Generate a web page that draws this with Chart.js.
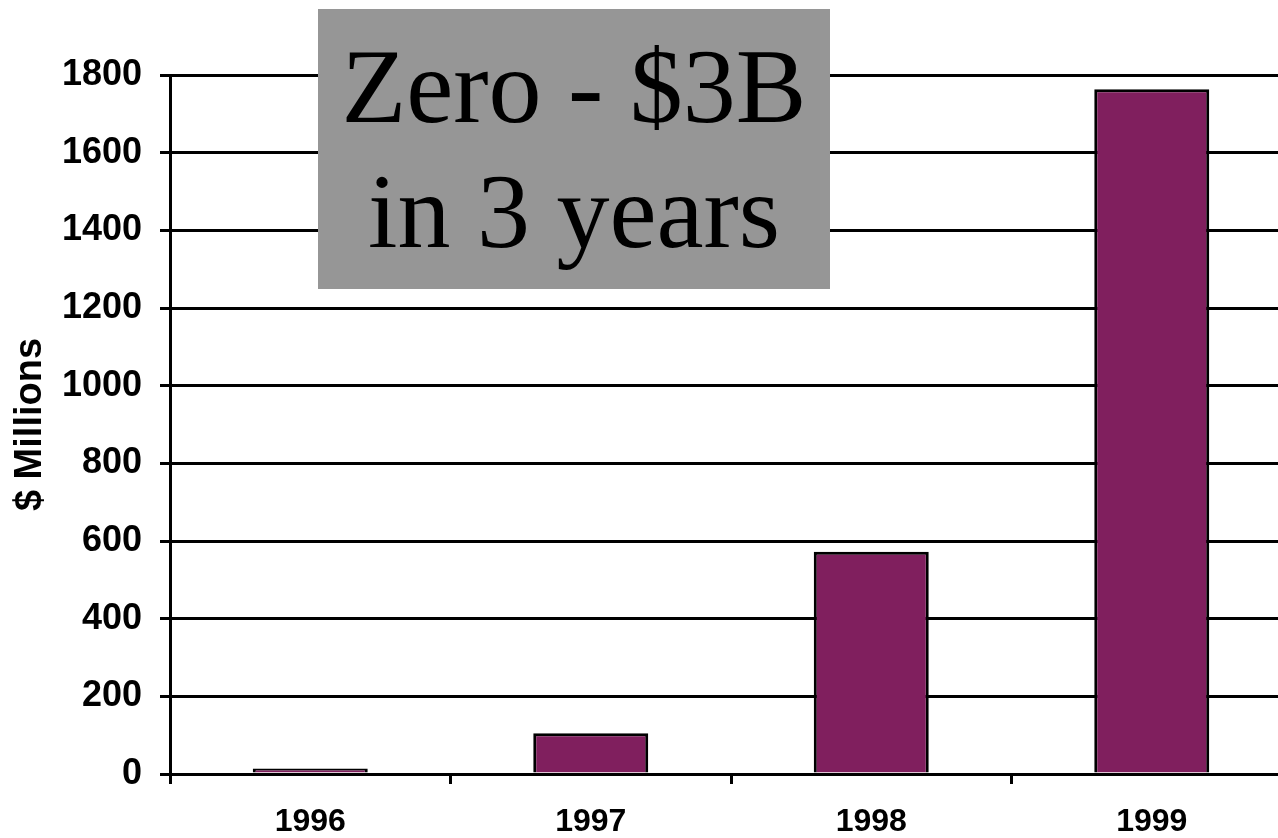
<!DOCTYPE html>
<html>
<head>
<meta charset="utf-8">
<script src="https://cdn.jsdelivr.net/npm/chart.js@4"></script>
<style>
  html, body { margin: 0; padding: 0; background: #ffffff; overflow: hidden; }
  #wrap { position: relative; width: 1300px; height: 838px; }
</style>
</head>
<body>
<div id="wrap"><canvas id="c"></canvas></div>
<script>
const categories = ['1996', '1997', '1998', '1999'];
const revenueMillions = [14, 105, 572, 1763];
const yTickValues = [0, 200, 400, 600, 800, 1000, 1200, 1400, 1600, 1800];
const yAxisTitle = '$ Millions';
const calloutLines = ['Zero - $3B', 'in 3 years'];

const calloutPlugin = {
  id: 'callout',
  afterDraw(chart) {
    const ctx = chart.ctx;
    ctx.save();
    ctx.fillStyle = '#969696';
    ctx.fillRect(318, 9, 512, 280);
    ctx.fillStyle = '#000000';
    ctx.font = '106px "Liberation Serif", "Times New Roman", serif';
    ctx.textAlign = 'center';
    ctx.textBaseline = 'alphabetic';
    ctx.fillText(calloutLines[0], 574, 122);
    ctx.fillText(calloutLines[1], 574, 247);
    ctx.restore();
  }
};

new Chart(document.getElementById('c'), {
  type: 'bar',
  data: {
    labels: categories,
    datasets: [{
      data: revenueMillions,
      backgroundColor: '#801f5e',
      borderColor: '#000000',
      borderWidth: 3,
      barPercentage: 0.41,
      categoryPercentage: 1.0
    }]
  },
  options: {
    responsive: true,
    maintainAspectRatio: false,
    animation: false,
    layout: { padding: { top: 75, right: 8, bottom: 0, left: 0 } },
    plugins: { legend: { display: false }, tooltip: { enabled: false } },
    scales: {
      x: {
        offset: true,
        grid: { display: true, drawOnChartArea: false, drawTicks: true, tickLength: 10, color: '#000000', lineWidth: 3, offset: true },
        border: { display: true, color: '#000000', width: 3 },
        ticks: { color: '#000000', padding: 19, font: { family: '"Liberation Sans", Arial, sans-serif', size: 32, weight: 'bold' } },
        afterFit(scale) { scale.height = 64; }
      },
      y: {
        min: 0,
        max: 1800,
        afterBuildTicks(scale) { scale.ticks = yTickValues.map(v => ({ value: v })); },
        grid: { color: '#000000', lineWidth: 3, tickLength: 10, drawTicks: true },
        border: { display: true, color: '#000000', width: 3 },
        ticks: {
          color: '#000000', padding: 18,
          callback: (v) => String(v),
          font: { family: '"Liberation Sans", Arial, sans-serif', size: 36, weight: 'bold' }
        },
        title: { display: true, text: yAxisTitle, color: '#000000', padding: { top: 8, bottom: 0 }, font: { family: '"Liberation Sans", Arial, sans-serif', size: 38, weight: 'bold' } },
        afterFit(scale) { scale.width = 170; }
      }
    }
  },
  plugins: [calloutPlugin]
});
</script>
</body>
</html>
